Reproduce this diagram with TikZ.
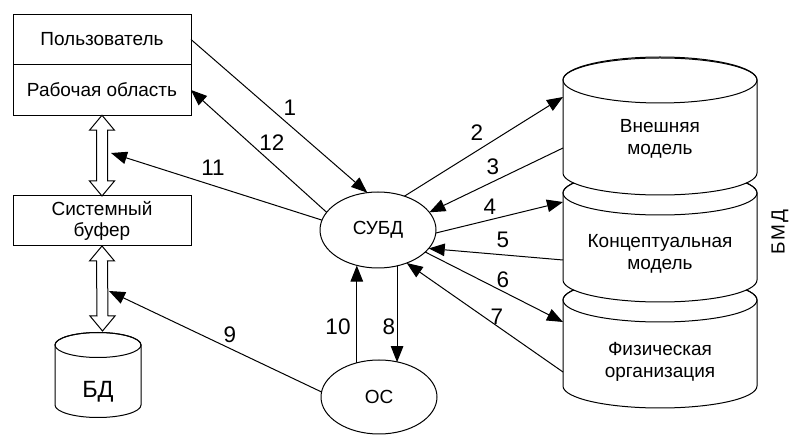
\documentclass[tikz,border=0pt]{standalone}
\usepackage{fontspec}
\setmainfont{Liberation Sans}
\usetikzlibrary{arrows.meta,shapes.geometric,calc}
\begin{document}
\begin{tikzpicture}[x=1pt,y=-1pt,
  line width=1pt,
  every node/.style={inner sep=0pt, outer sep=0pt},
  txt/.style={font=\fontsize{19}{21.5}\selectfont, align=center},
  num/.style={font=\fontsize{22.5}{24}\selectfont},
  arr/.style={-{Triangle[length=16pt,width=12.5pt]}},
  box/.style={draw, minimum width=178pt, minimum height=50pt, txt},
  oval/.style={draw, ellipse, txt, minimum width=116pt, minimum height=76pt},
  dbl/.style={draw, fill=white, line width=1pt, line join=miter}
]
\useasboundingbox (0,0) rectangle (790,435);

% left boxes
\node[box, minimum height=50.5pt] (usr) at (102,39.5) {Пользователь};
\node[box, minimum height=50.5pt] (ws) at (102,90) {Рабочая область};
\node[box] (buf) at (102,221) {Системный\\буфер};

% BD cylinder
\filldraw[fill=white] (55,345) -- (55,405) arc[start angle=180,end angle=0,x radius=43,y radius=12.5]
  -- (141,345) arc[start angle=0,end angle=-180,x radius=43,y radius=12.5] -- cycle;
\draw (98,345) ellipse[x radius=43,y radius=12.5];
\node[font=\fontsize{23.5}{25}\selectfont] (bd) at (98,392) {БД};
\coordinate (bdtop) at (102.5,331);

% double arrows
\coordinate (t1) at (ws.south);
\coordinate (b1) at (buf.north);
\draw[dbl] (t1) -- ($(t1)+(12.5,15)$) -- ($(t1)+(5.5,15)$) -- ($(b1)+(5.5,-15)$) -- ($(b1)+(12.5,-15)$)
  -- (b1) -- ($(b1)+(-12.5,-15)$) -- ($(b1)+(-5.5,-15)$) -- ($(t1)+(-5.5,15)$) -- ($(t1)+(-12.5,15)$) -- cycle;
\coordinate (t2) at (buf.south);
\draw[dbl] (t2) -- ($(t2)+(12.5,15)$) -- ($(t2)+(5.5,15)$) -- ($(bdtop)+(5.5,-15)$) -- ($(bdtop)+(12.5,-15)$)
  -- (bdtop) -- ($(bdtop)+(-12.5,-15)$) -- ($(bdtop)+(-5.5,-15)$) -- ($(t2)+(-5.5,15)$) -- ($(t2)+(-12.5,15)$) -- cycle;
\coordinate (da1) at (111,153);
\coordinate (da2) at (109,291);

% right cylinder stack
\filldraw[fill=white] (563,300) -- (563,386) arc[start angle=180,end angle=0,x radius=97,y radius=22]
  -- (757,300) arc[start angle=0,end angle=-180,x radius=97,y radius=22] -- cycle;
\draw (660,300) ellipse[x radius=97,y radius=22];
\filldraw[fill=white] (563,193) -- (563,280) arc[start angle=180,end angle=0,x radius=97,y radius=22]
  -- (757,193) arc[start angle=0,end angle=-180,x radius=97,y radius=22] -- cycle;
\draw (660,193) ellipse[x radius=97,y radius=22];
\filldraw[fill=white] (563,80) -- (563,173) arc[start angle=180,end angle=0,x radius=97,y radius=22]
  -- (757,80) arc[start angle=0,end angle=-180,x radius=97,y radius=22] -- cycle;
\draw (660,80) ellipse[x radius=97,y radius=23];

\node[txt] (m1) at (660,139) {Внешняя\\модель};
\node[txt] (m2) at (660,254) {Концептуальная\\модель};
\node[txt] (m3) at (660,362) {Физическая\\организация};
\node[txt, rotate=90] (bmd) at (780,232) {Б\kern2ptМ\kern2ptД};

\coordinate (c2) at (563,97);
\coordinate (c3) at (563,148);
\coordinate (c4) at (563,202);
\coordinate (c5) at (563,260);
\coordinate (c6) at (563,322);
\coordinate (c7) at (563,372);

% ellipses
\node[oval] (subd) at (378,230) {СУБД};
\node[oval, minimum height=74pt] (os) at (379,397) {ОС};

% connectors
\draw[arr] (usr.east) -- (subd.106);
\draw[arr] (subd.161) -- (ws.east);
\draw[arr] (subd.170) -- (da1);
\draw[arr] (os.175) -- (da2);
\draw[arr] (subd.52) -- (c2);
\draw[arr] (c3) -- (subd.19);
\draw[arr] (subd.-3) -- (c4);
\draw[arr] (c5) -- (subd.-20);
\draw[arr] (subd.-25) -- (c6);
\draw[arr] (c7) -- (subd.-49);
\draw[arr] (os.123) -- (os.123 |- subd.-120);
\draw[arr] (subd.-62) -- (subd.-62 |- os.61);

% labels
\node[num] (l1) at (290,108) {1};
\node[num] (l12) at (272,143) {12};
\node[num] (l11) at (213,168) {11};
\node[num] (l9) at (230,335) {9};
\node[num] (l2) at (477,133) {2};
\node[num] (l3) at (493,167) {3};
\node[num] (l4) at (490,207) {4};
\node[num] (l5) at (503,240) {5};
\node[num] (l6) at (503,280) {6};
\node[num] (l7) at (497,317) {7};
\node[num] (l10) at (338,327) {10};
\node[num] (l8) at (389,327) {8};
\end{tikzpicture}
\end{document}
